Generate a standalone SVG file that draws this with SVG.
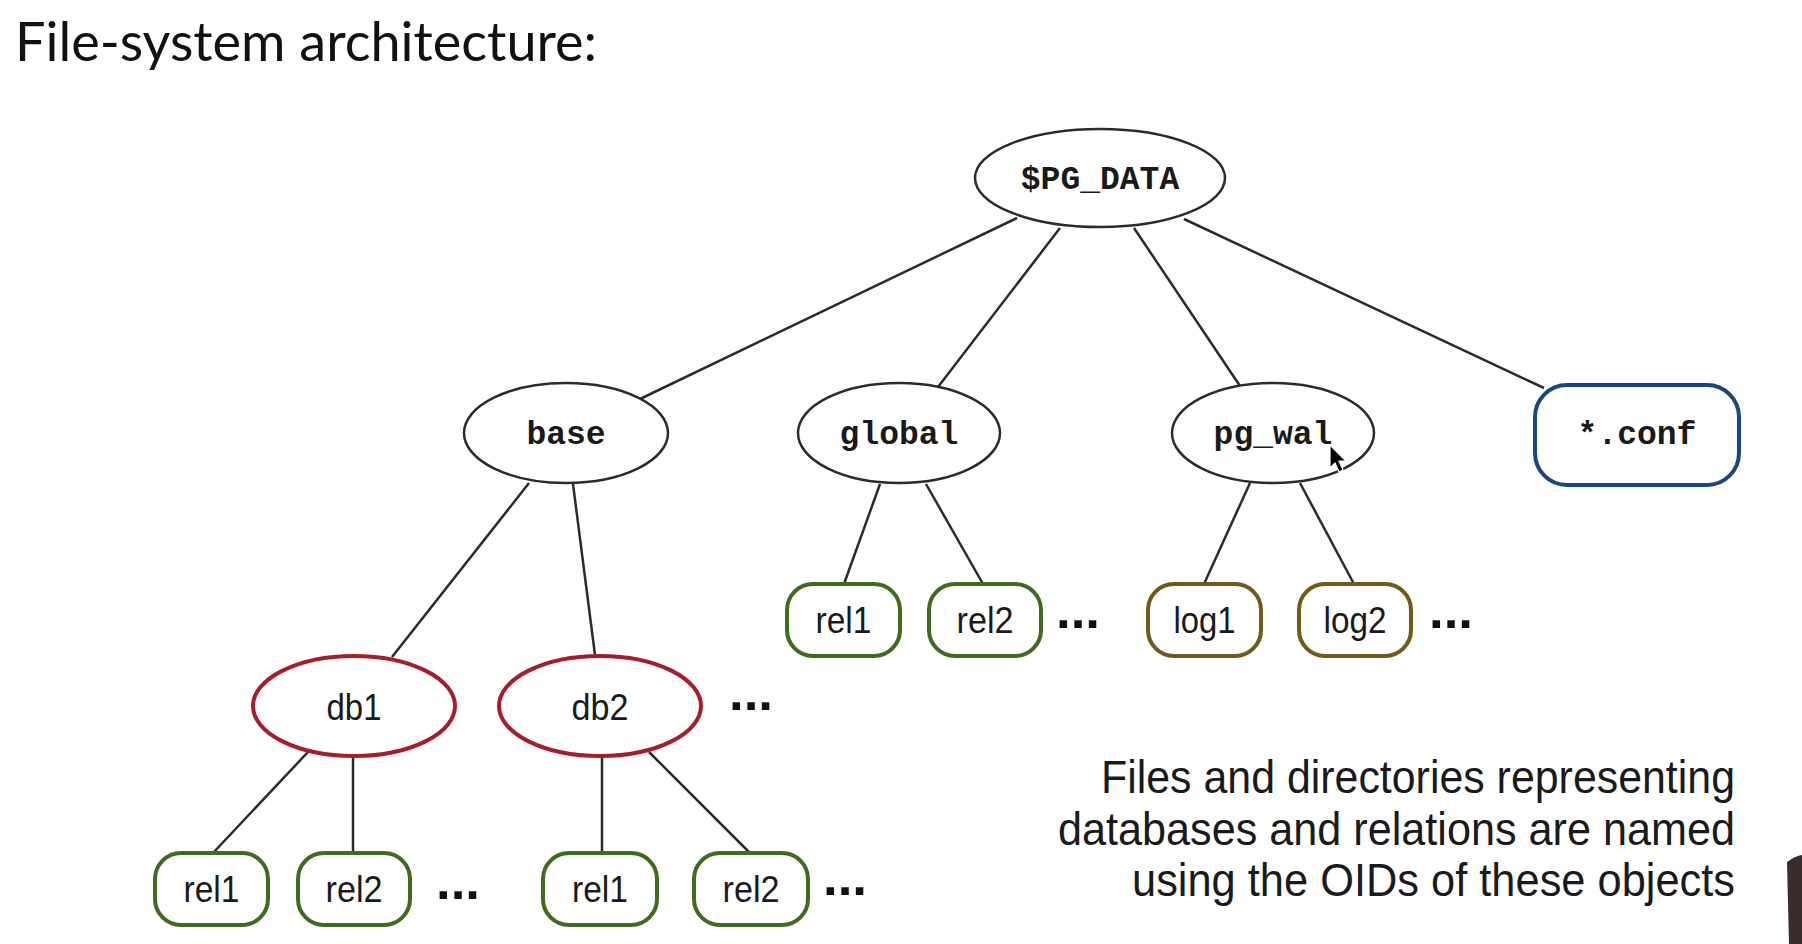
<svg xmlns="http://www.w3.org/2000/svg" width="1802" height="944" viewBox="0 0 1802 944">
<style>
.e{fill:#fff;stroke:#2b2b2b;stroke-width:2.5}
.red{fill:#fff;stroke:#a61e2c;stroke-width:4}
.grn{fill:#fff;stroke:#3f6b1f;stroke-width:4}
.olv{fill:#fff;stroke:#6f5a1c;stroke-width:4}
.blu{fill:#fff;stroke:#1c4583;stroke-width:4}
.mono{font-family:"Liberation Mono",monospace;font-weight:bold;font-size:33px;fill:#1a1a1a;text-anchor:middle}
.sans{font-family:"Liberation Sans",Arial,sans-serif;font-size:37px;fill:#1a1a1a;text-anchor:middle}
.dots{font-family:"Liberation Sans",Arial,sans-serif;font-weight:bold;font-size:52px;fill:#111}
.cap{font-family:"Liberation Sans",Arial,sans-serif;font-size:47px;fill:#1a1a1a;text-anchor:end}
.title{font-family:Lato,"Liberation Sans",sans-serif;font-size:54px;fill:#111}
#connectors line{stroke:#2b2b2b;stroke-width:2.5}
</style>
<rect width="1802" height="944" fill="#fff"/>
<text class="title" x="15" y="61">File-system architecture:</text>
<g id="connectors">
<line x1="1017" y1="218" x2="640" y2="399"/>
<line x1="1060" y1="228" x2="938" y2="387"/>
<line x1="1134" y1="228" x2="1240" y2="386"/>
<line x1="1184" y1="219" x2="1544" y2="388"/>
<line x1="529" y1="483" x2="392" y2="657"/>
<line x1="573" y1="484" x2="595" y2="655"/>
<line x1="880" y1="484" x2="844" y2="584"/>
<line x1="926" y1="484" x2="983" y2="584"/>
<line x1="1250" y1="483" x2="1204" y2="584"/>
<line x1="1300" y1="483" x2="1354" y2="584"/>
<line x1="308" y1="752" x2="213" y2="853"/>
<line x1="353" y1="756" x2="353" y2="853"/>
<line x1="602" y1="756" x2="602" y2="853"/>
<line x1="649" y1="752" x2="750" y2="853"/>
</g>
<g id="pgdata"><ellipse class="e" cx="1100" cy="178" rx="125" ry="49"/><text class="mono" x="1100" y="189">$PG_DATA</text></g>
<g id="base"><ellipse class="e" cx="566" cy="433" rx="102" ry="50"/><text class="mono" x="566" y="444">base</text></g>
<g id="global"><ellipse class="e" cx="899" cy="433" rx="101" ry="50"/><text class="mono" x="899" y="444">global</text></g>
<g id="pgwal"><ellipse class="e" cx="1273" cy="433" rx="101" ry="50"/><text class="mono" x="1273" y="444">pg_wal</text></g>
<g id="conf"><rect class="blu" x="1535" y="385" width="204" height="100" rx="32"/><text class="mono" x="1637" y="444">*.conf</text></g>
<g id="g_rel1"><rect class="grn" x="787" y="584" width="113" height="72" rx="26"/><text class="sans" x="843.5" y="633" textLength="56" lengthAdjust="spacingAndGlyphs">rel1</text></g>
<g id="g_rel2"><rect class="grn" x="929" y="584" width="112" height="72" rx="26"/><text class="sans" x="985" y="633" textLength="57" lengthAdjust="spacingAndGlyphs">rel2</text></g>
<text class="dots" x="1056" y="628" textLength="44" lengthAdjust="spacingAndGlyphs">...</text>
<g id="log1"><rect class="olv" x="1148" y="584" width="113" height="72" rx="26"/><text class="sans" x="1204.5" y="633" textLength="62" lengthAdjust="spacingAndGlyphs">log1</text></g>
<g id="log2"><rect class="olv" x="1299" y="584" width="112" height="72" rx="26"/><text class="sans" x="1355" y="633" textLength="63" lengthAdjust="spacingAndGlyphs">log2</text></g>
<text class="dots" x="1429" y="628" textLength="44" lengthAdjust="spacingAndGlyphs">...</text>
<g id="db1"><ellipse class="red" cx="354" cy="706" rx="101" ry="50"/><text class="sans" x="354" y="720" textLength="55" lengthAdjust="spacingAndGlyphs">db1</text></g>
<g id="db2"><ellipse class="red" cx="600" cy="706" rx="101" ry="50"/><text class="sans" x="600" y="720" textLength="57" lengthAdjust="spacingAndGlyphs">db2</text></g>
<text class="dots" x="729" y="710" textLength="44" lengthAdjust="spacingAndGlyphs">...</text>
<g id="d1_rel1"><rect class="grn" x="155" y="853" width="113" height="72" rx="26"/><text class="sans" x="211.5" y="902" textLength="56" lengthAdjust="spacingAndGlyphs">rel1</text></g>
<g id="d1_rel2"><rect class="grn" x="298" y="853" width="112" height="72" rx="26"/><text class="sans" x="354" y="902" textLength="57" lengthAdjust="spacingAndGlyphs">rel2</text></g>
<text class="dots" x="436" y="899" textLength="44" lengthAdjust="spacingAndGlyphs">...</text>
<g id="d2_rel1"><rect class="grn" x="543" y="853" width="114" height="72" rx="26"/><text class="sans" x="600" y="902" textLength="56" lengthAdjust="spacingAndGlyphs">rel1</text></g>
<g id="d2_rel2"><rect class="grn" x="694" y="853" width="114" height="72" rx="26"/><text class="sans" x="751" y="902" textLength="57" lengthAdjust="spacingAndGlyphs">rel2</text></g>
<text class="dots" x="823" y="895" textLength="44" lengthAdjust="spacingAndGlyphs">...</text>
<text class="cap" x="1735" y="793" textLength="634" lengthAdjust="spacingAndGlyphs">Files and directories representing</text>
<text class="cap" x="1735" y="845" textLength="677" lengthAdjust="spacingAndGlyphs">databases and relations are named</text>
<text class="cap" x="1735" y="896" textLength="603" lengthAdjust="spacingAndGlyphs">using the OIDs of these objects</text>
<path d="M1330,445 L1330,468 L1335,463 L1339,472 L1343,470 L1339,461 L1346,461 Z" fill="#000" stroke="#fff" stroke-width="1.2"/>
<path d="M1787,862 Q1795,856 1802,855 L1802,944 L1789,944 Z" fill="#3a2b2c"/>
</svg>
